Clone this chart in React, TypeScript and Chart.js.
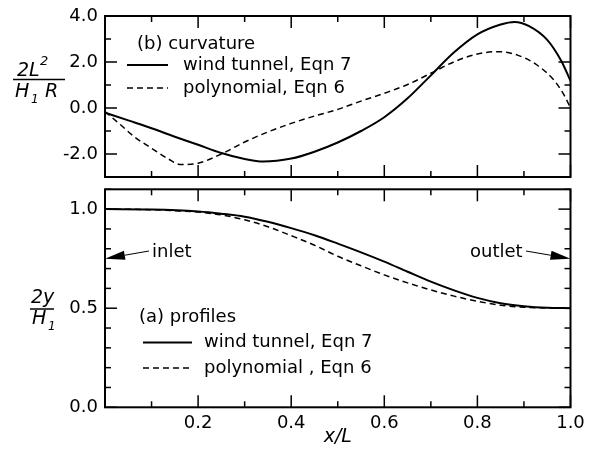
import React, { useEffect, useRef } from 'react';
import { Chart, registerables } from 'chart.js';

Chart.register(...registerables);

// ---- data: (b) curvature, 2L^2/(H1 R) ----
const curvTunnelX = [0, 0.05, 0.1, 0.15, 0.2, 0.25, 0.3, 0.34, 0.4, 0.45, 0.5, 0.55, 0.6, 0.65, 0.7, 0.75, 0.8, 0.85, 0.88, 0.91, 0.95, 0.98, 1.0];
const curvTunnelY = [-0.2, -0.54, -0.88, -1.25, -1.6, -1.96, -2.22, -2.33, -2.2, -1.9, -1.5, -1.0, -0.4, 0.42, 1.42, 2.42, 3.2, 3.63, 3.74, 3.57, 2.96, 2.05, 1.18];
const curvPolyX = [0, 0.034, 0.063, 0.1, 0.134, 0.163, 0.2, 0.25, 0.3, 0.35, 0.4, 0.45, 0.5, 0.55, 0.6, 0.65, 0.7, 0.75, 0.8, 0.843, 0.886, 0.928, 0.964, 0.986, 1.0];
const curvPolyY = [-0.15, -0.74, -1.25, -1.75, -2.19, -2.46, -2.4, -2.0, -1.48, -1.04, -0.67, -0.35, -0.06, 0.3, 0.64, 1.02, 1.51, 2.01, 2.35, 2.45, 2.3, 1.87, 1.22, 0.57, 0.0];

// ---- data: (a) profiles, 2y/H1 ----
const profTunnelX = [0, 0.1, 0.2, 0.25, 0.3, 0.35, 0.4, 0.45, 0.5, 0.55, 0.6, 0.65, 0.7, 0.75, 0.8, 0.85, 0.9, 0.95, 1.0];
const profTunnelY = [1.0, 0.998, 0.988, 0.977, 0.962, 0.936, 0.904, 0.868, 0.826, 0.782, 0.735, 0.684, 0.634, 0.59, 0.552, 0.525, 0.51, 0.502, 0.5];
const profPolyX = [0, 0.05, 0.1, 0.15, 0.2, 0.25, 0.3, 0.35, 0.4, 0.45, 0.5, 0.55, 0.6, 0.65, 0.7, 0.75, 0.8, 0.85, 0.9, 0.95, 1.0];
const profPolyY = [1.0, 0.9995, 0.997, 0.992, 0.985, 0.971, 0.946, 0.911, 0.866, 0.818, 0.762, 0.714, 0.668, 0.628, 0.592, 0.561, 0.535, 0.515, 0.505, 0.501, 0.5];

const seriesLabels = ['wind tunnel, Eqn 7', 'polynomial, Eqn 6'];
const seriesLabelsProfiles = ['wind tunnel, Eqn 7', 'polynomial , Eqn 6'];
const panelTitles = ['(b) curvature', '(a) profiles'];
const annotations = ['inlet', 'outlet'];
const annotationValue = 0.75;

const FONT = 'DejaVu Sans';

function zip(xs: number[], ys: number[]) {
  return xs.map((x, i) => ({ x, y: ys[i] }));
}

function makeDatasets(labels: string[], a: { x: number; y: number }[], b: { x: number; y: number }[]) {
  return [
    { label: labels[0], data: a, borderColor: '#000', borderWidth: 2, pointRadius: 0, fill: false, cubicInterpolationMode: 'monotone' as const },
    { label: labels[1], data: b, borderColor: '#000', borderWidth: 1.5, borderDash: [6, 4], pointRadius: 0, fill: false, cubicInterpolationMode: 'monotone' as const },
  ];
}

type DecorCfg = {
  id: string;
  xMajor: (v: number) => boolean;
  yMajor: (v: number) => boolean;
  extra: (ctx: CanvasRenderingContext2D, chart: any) => void;
};

function makeDecor(cfg: DecorCfg) {
  return {
    id: cfg.id,
    afterDraw(chart: any) {
      const { ctx, chartArea: a, scales } = chart;
      ctx.save();
      ctx.strokeStyle = '#000';
      ctx.fillStyle = '#000';
      ctx.lineWidth = 1.5;
      const seg = (x1: number, y1: number, x2: number, y2: number) => {
        ctx.beginPath();
        ctx.moveTo(x1, y1);
        ctx.lineTo(x2, y2);
        ctx.stroke();
      };
      const xs = scales.x;
      const ys = scales.y;
      xs.ticks.forEach((t: any) => {
        const px = xs.getPixelForValue(t.value);
        const L = cfg.xMajor(t.value) ? 12 : 6;
        seg(px, a.bottom, px, a.bottom - L);
        seg(px, a.top, px, a.top + L);
      });
      ys.ticks.forEach((t: any) => {
        const py = ys.getPixelForValue(t.value);
        const L = cfg.yMajor(t.value) ? 12 : 6;
        seg(a.left, py, a.left + L, py);
        seg(a.right, py, a.right - L, py);
      });
      ctx.lineWidth = 2;
      ctx.strokeRect(a.left, a.top, a.right - a.left, a.bottom - a.top);
      cfg.extra(ctx, chart);
      ctx.restore();
    },
  };
}

function drawLegend(ctx: CanvasRenderingContext2D, chart: any, title: string, titleX: number, titleY: number, lineX1: number, lineX2: number, textX: number, rowYs: number[]) {
  ctx.font = `18px "${FONT}"`;
  ctx.textAlign = 'left';
  ctx.textBaseline = 'middle';
  ctx.fillText(title, titleX, titleY);
  chart.data.datasets.forEach((ds: any, i: number) => {
    const y = rowYs[i];
    ctx.save();
    ctx.lineWidth = ds.borderWidth;
    ctx.setLineDash(ds.borderDash || []);
    ctx.beginPath();
    ctx.moveTo(lineX1, y);
    ctx.lineTo(lineX2, y);
    ctx.stroke();
    ctx.restore();
    ctx.fillText(ds.label, textX, y);
  });
}

function drawArrow(ctx: CanvasRenderingContext2D, x1: number, y1: number, x2: number, y2: number) {
  const ang = Math.atan2(y2 - y1, x2 - x1);
  const hl = 20;
  const hw = 4.5;
  const bx = x2 - hl * Math.cos(ang);
  const by = y2 - hl * Math.sin(ang);
  ctx.lineWidth = 1;
  ctx.beginPath();
  ctx.moveTo(x1, y1);
  ctx.lineTo(bx, by);
  ctx.stroke();
  ctx.beginPath();
  ctx.moveTo(x2, y2);
  ctx.lineTo(bx + hw * Math.sin(ang), by - hw * Math.cos(ang));
  ctx.lineTo(bx - hw * Math.sin(ang), by + hw * Math.cos(ang));
  ctx.closePath();
  ctx.fill();
}

const near = (v: number, step: number) => Math.abs(v / step - Math.round(v / step)) < 1e-6;

const noPadY = (w: number) => (s: any) => {
  s.width = w;
  s.paddingTop = 0;
  s.paddingBottom = 0;
};
const noPadX = (h: number) => (s: any) => {
  s.height = h;
  s.paddingLeft = 0;
  s.paddingRight = 0;
};

export default function App() {
  const topRef = useRef<HTMLCanvasElement>(null);
  const botRef = useRef<HTMLCanvasElement>(null);

  useEffect(() => {
    Chart.defaults.font.family = FONT;
    Chart.defaults.font.size = 18;
    Chart.defaults.color = '#000';

    const TOP_OFF = 0;
    const BOT_OFF = 180;

    const topDecor = makeDecor({
      id: 'decorTop',
      xMajor: (v) => near(v, 0.2),
      yMajor: (v) => near(v, 2),
      extra: (ctx, chart) => {
        drawLegend(ctx, chart, panelTitles[0], 137, 44 - TOP_OFF, 127, 168, 183, [65 - TOP_OFF, 88 - TOP_OFF]);
        // y-axis title: 2L^2 / (H1 R)
        ctx.textAlign = 'left';
        ctx.textBaseline = 'alphabetic';
        ctx.font = `italic 19px "${FONT}"`;
        ctx.fillText('2L', 17, 76 - TOP_OFF);
        ctx.font = `italic 13px "${FONT}"`;
        ctx.fillText('2', 40, 65 - TOP_OFF);
        ctx.lineWidth = 1.5;
        ctx.beginPath();
        ctx.moveTo(13, 79.5 - TOP_OFF);
        ctx.lineTo(65, 79.5 - TOP_OFF);
        ctx.stroke();
        ctx.font = `italic 19px "${FONT}"`;
        ctx.fillText('H', 15, 97 - TOP_OFF);
        ctx.fillText('R', 45, 97 - TOP_OFF);
        ctx.font = `italic 12px "${FONT}"`;
        ctx.fillText('1', 31, 103 - TOP_OFF);
      },
    });

    const botDecor = makeDecor({
      id: 'decorBot',
      xMajor: (v) => near(v, 0.2),
      yMajor: (v) => near(v, 0.5),
      extra: (ctx, chart) => {
        drawLegend(ctx, chart, panelTitles[1], 139, 317 - BOT_OFF, 143, 192, 204, [342.5 - BOT_OFF, 368 - BOT_OFF]);
        const { scales } = chart;
        const yPx = scales.y.getPixelForValue(annotationValue);
        const x0 = scales.x.getPixelForValue(0);
        const x1 = scales.x.getPixelForValue(1);
        ctx.font = `18px "${FONT}"`;
        ctx.textBaseline = 'middle';
        ctx.textAlign = 'left';
        ctx.fillText(annotations[0], 152, 252 - BOT_OFF);
        ctx.fillText(annotations[1], 470, 252 - BOT_OFF);
        drawArrow(ctx, 149, 251 - BOT_OFF, x0, yPx);
        drawArrow(ctx, 526, 251 - BOT_OFF, x1, yPx);
        // y-axis title: 2y / H1
        ctx.textBaseline = 'alphabetic';
        ctx.font = `italic 19px "${FONT}"`;
        ctx.fillText('2y', 31, 303 - BOT_OFF);
        ctx.lineWidth = 1.5;
        ctx.beginPath();
        ctx.moveTo(30, 309 - BOT_OFF);
        ctx.lineTo(54, 309 - BOT_OFF);
        ctx.stroke();
        ctx.fillText('H', 32, 324 - BOT_OFF);
        ctx.font = `italic 12px "${FONT}"`;
        ctx.fillText('1', 48, 330 - BOT_OFF);
        // x-axis title
        ctx.font = `italic 19px "${FONT}"`;
        ctx.textAlign = 'center';
        const a = chart.chartArea;
        ctx.fillText('x/L', (a.left + a.right) / 2, 442 - BOT_OFF);
      },
    });

    const LEFT_W = 105;
    const RIGHT_W = 28.5;

    const top = new Chart(topRef.current!, {
      type: 'line',
      data: { datasets: makeDatasets(seriesLabels, zip(curvTunnelX, curvTunnelY), zip(curvPolyX, curvPolyY)) as any },
      options: {
        animation: false,
        responsive: false,
        layout: { padding: { top: 16, left: 0, right: 0, bottom: 0 } },
        plugins: { legend: { display: false }, tooltip: { enabled: false }, title: { display: false } },
        scales: {
          x: {
            type: 'linear', min: 0, max: 1,
            ticks: { stepSize: 0.1, display: false, autoSkip: false },
            grid: { display: false }, border: { display: false },
            afterFit: noPadX(190 - 177),
          },
          y: {
            type: 'linear', min: -3, max: 4,
            ticks: {
              stepSize: 1, autoSkip: false, padding: 7, color: '#000',
              font: { family: FONT, size: 18 },
              callback: (v: any) => (near(Number(v), 2) ? Number(v).toFixed(1) : ''),
            },
            grid: { display: false, drawTicks: false }, border: { display: false },
            afterFit: noPadY(LEFT_W),
          },
          y2: {
            type: 'linear', position: 'right', min: -3, max: 4,
            ticks: { display: false },
            grid: { display: false, drawTicks: false }, border: { display: false },
            afterFit: noPadY(RIGHT_W),
          },
        },
      } as any,
      plugins: [topDecor],
    });

    const bot = new Chart(botRef.current!, {
      type: 'line',
      data: { datasets: makeDatasets(seriesLabelsProfiles, zip(profTunnelX, profTunnelY), zip(profPolyX, profPolyY)) as any },
      options: {
        animation: false,
        responsive: false,
        layout: { padding: { top: 189.3 - BOT_OFF, left: 0, right: 0, bottom: 0 } },
        plugins: { legend: { display: false }, tooltip: { enabled: false }, title: { display: false } },
        scales: {
          x: {
            type: 'linear', min: 0, max: 1,
            ticks: {
              stepSize: 0.1, autoSkip: false, maxRotation: 0, padding: 5, color: '#000',
              font: { family: FONT, size: 18 },
              callback: (v: any) => {
                const n = Number(v);
                return near(n, 0.2) && n > 0.1 ? n.toFixed(1) : '';
              },
            },
            grid: { display: false, drawTicks: false }, border: { display: false },
            afterFit: noPadX(452 - 407.3),
          },
          y: {
            type: 'linear', min: 0, max: 1.1,
            ticks: {
              stepSize: 0.1, autoSkip: false, padding: 7, color: '#000',
              font: { family: FONT, size: 18 },
              callback: (v: any) => (near(Number(v), 0.5) ? Number(v).toFixed(1) : ''),
            },
            grid: { display: false, drawTicks: false }, border: { display: false },
            afterFit: noPadY(LEFT_W),
          },
          y2: {
            type: 'linear', position: 'right', min: 0, max: 1.1,
            ticks: { display: false },
            grid: { display: false, drawTicks: false }, border: { display: false },
            afterFit: noPadY(RIGHT_W),
          },
        },
      } as any,
      plugins: [botDecor],
    });

    return () => {
      top.destroy();
      bot.destroy();
    };
  }, []);

  return (
    <div style={{ position: 'absolute', left: 0, top: 0, width: 599, height: 452, background: '#fff', overflow: 'hidden' }}>
      <canvas ref={topRef} width={599} height={190} style={{ position: 'absolute', left: 0, top: 0, width: 599, height: 190, display: 'block' }} />
      <canvas ref={botRef} width={599} height={272} style={{ position: 'absolute', left: 0, top: 180, width: 599, height: 272, display: 'block' }} />
    </div>
  );
}
